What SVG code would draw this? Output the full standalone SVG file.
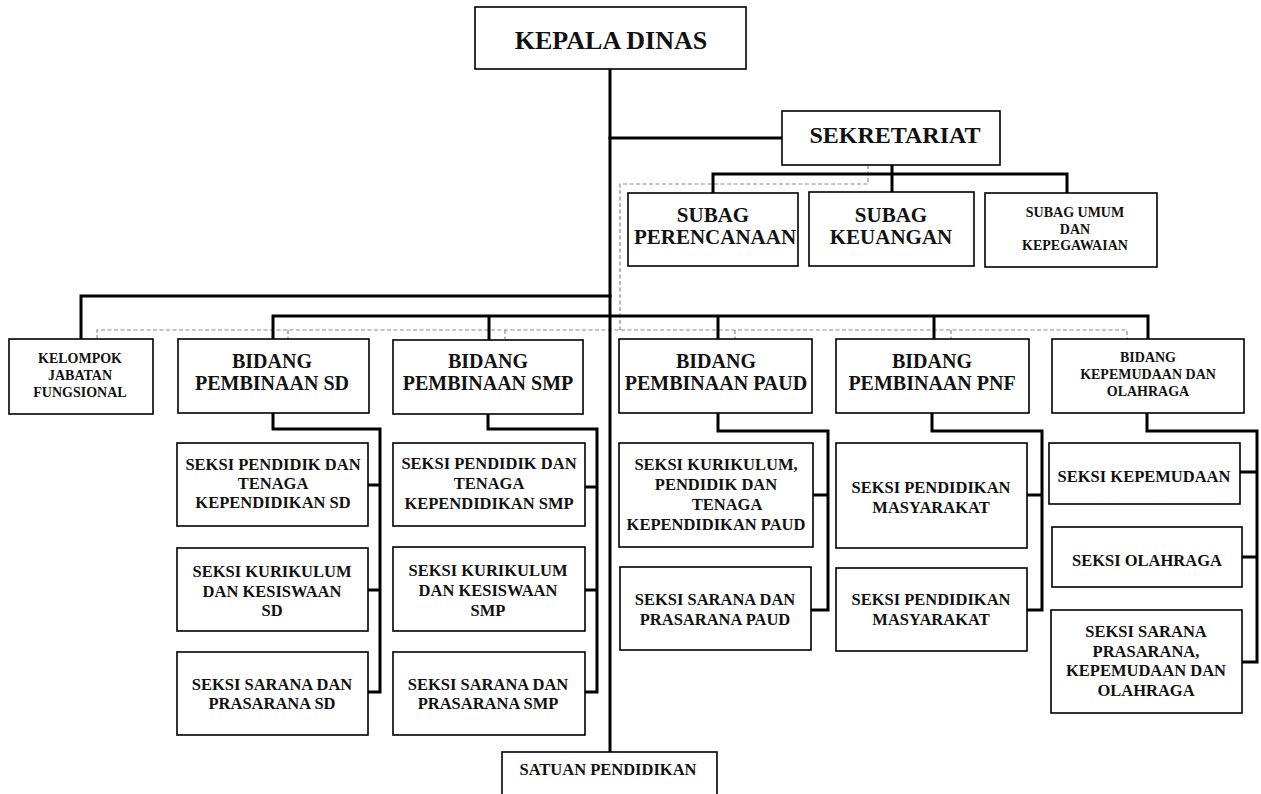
<svg xmlns="http://www.w3.org/2000/svg" width="1261" height="794" viewBox="0 0 1261 794">
<style>
.box{fill:#fff;stroke:#000;stroke-width:1.6}
.ln{fill:none;stroke:#000;stroke-width:3;stroke-linejoin:miter;stroke-linecap:square}
.dash{fill:none;stroke:#8a8a8a;stroke-width:1.2;stroke-dasharray:4 2.5}
text{font-family:"Liberation Serif","Times New Roman",serif;font-weight:bold;fill:#111;text-anchor:middle}
.t26{font-size:26px}.t24{font-size:24px}.t21{font-size:21px}.t20{font-size:20px}.t14{font-size:14px}.t16{font-size:16.5px}
</style>
<rect width="1261" height="794" fill="#fff"/>
<g id="connectors">
<path class="dash" d="M868,165 V184 H620 V330 M97,339 V330 H1127 V339 M288,330 V339 M505,330 V339 M735,330 V339 M951,330 V339"/>
<path class="ln" d="M610,69 V752"/>
<path class="ln" d="M610,138 H782"/>
<path class="ln" d="M892,165 V192 M713,193 V174 H1067 V193"/>
<path class="ln" d="M610,296 H81 V339"/>
<path class="ln" d="M273,339 V316 H1148 V339 M489,316 V340 M718,316 V339 M934,316 V339"/>
<path class="ln" d="M273,413 V429 H380 V692 H368 M368,485 H380 M368,590 H380"/>
<path class="ln" d="M488,414 V429 H597 V692 H585 M585,487 H597 M585,590 H597"/>
<path class="ln" d="M718,413 V431 H828 V610 H811 M813,495 H828"/>
<path class="ln" d="M932,413 V431 H1042 V610 H1027 M1027,495 H1042"/>
<path class="ln" d="M1147,413 V431 H1257 V662 H1242 M1240,472 H1257 M1242,557 H1257"/>
</g>
<g id="kepala-dinas"><rect class="box" x="475" y="7" width="271" height="62"/><text class="t26" x="611" y="49">KEPALA DINAS</text></g>
<g id="sekretariat"><rect class="box" x="782" y="111" width="218" height="54"/><text class="t24" x="895" y="143">SEKRETARIAT</text></g>
<g id="subag-perencanaan"><rect class="box" x="628" y="193" width="170" height="73"/><text class="t21" x="713" y="222">SUBAG</text><text class="t21" x="715" y="244">PERENCANAAN</text></g>
<g id="subag-keuangan"><rect class="box" x="809" y="192" width="165" height="74"/><text class="t21" x="891" y="222">SUBAG</text><text class="t21" x="891" y="244">KEUANGAN</text></g>
<g id="subag-umum"><rect class="box" x="985" y="193" width="172" height="74"/><text class="t14" x="1075" y="217">SUBAG UMUM</text><text class="t14" x="1075" y="234">DAN</text><text class="t14" x="1075" y="250">KEPEGAWAIAN</text></g>
<g id="kelompok-jabatan"><rect class="box" x="9" y="339" width="144" height="75"/><text class="t14" x="80" y="363">KELOMPOK</text><text class="t14" x="80" y="380">JABATAN</text><text class="t14" x="80" y="397">FUNGSIONAL</text></g>
<g id="bidang-sd"><rect class="box" x="178" y="339" width="191" height="74"/><text class="t20" x="272" y="368">BIDANG</text><text class="t20" x="272" y="390">PEMBINAAN SD</text></g>
<g id="bidang-smp"><rect class="box" x="393" y="340" width="190" height="74"/><text class="t20" x="488" y="368">BIDANG</text><text class="t20" x="488" y="390">PEMBINAAN SMP</text></g>
<g id="bidang-paud"><rect class="box" x="619" y="339" width="193" height="74"/><text class="t20" x="716" y="368">BIDANG</text><text class="t20" x="716" y="390">PEMBINAAN PAUD</text></g>
<g id="bidang-pnf"><rect class="box" x="836" y="339" width="193" height="74"/><text class="t20" x="932" y="368">BIDANG</text><text class="t20" x="932" y="390">PEMBINAAN PNF</text></g>
<g id="bidang-kepemudaan"><rect class="box" x="1052" y="339" width="192" height="74"/><text class="t14" x="1148" y="362">BIDANG</text><text class="t14" x="1148" y="379">KEPEMUDAAN DAN</text><text class="t14" x="1148" y="396">OLAHRAGA</text></g>
<g id="seksi-ptk-sd"><rect class="box" x="177" y="443" width="191" height="83"/><text class="t16" x="273" y="470">SEKSI PENDIDIK DAN</text><text class="t16" x="273" y="489">TENAGA</text><text class="t16" x="273" y="508">KEPENDIDIKAN SD</text></g>
<g id="seksi-kurikulum-sd"><rect class="box" x="177" y="548" width="191" height="83"/><text class="t16" x="272" y="577">SEKSI KURIKULUM</text><text class="t16" x="272" y="597">DAN KESISWAAN</text><text class="t16" x="272" y="616">SD</text></g>
<g id="seksi-sarpras-sd"><rect class="box" x="177" y="652" width="191" height="83"/><text class="t16" x="272" y="690">SEKSI SARANA DAN</text><text class="t16" x="272" y="709">PRASARANA SD</text></g>
<g id="seksi-ptk-smp"><rect class="box" x="393" y="443" width="192" height="83"/><text class="t16" x="489" y="469">SEKSI PENDIDIK DAN</text><text class="t16" x="489" y="489">TENAGA</text><text class="t16" x="489" y="509">KEPENDIDIKAN SMP</text></g>
<g id="seksi-kurikulum-smp"><rect class="box" x="393" y="547" width="192" height="84"/><text class="t16" x="488" y="576">SEKSI KURIKULUM</text><text class="t16" x="488" y="596">DAN KESISWAAN</text><text class="t16" x="488" y="616">SMP</text></g>
<g id="seksi-sarpras-smp"><rect class="box" x="393" y="652" width="192" height="83"/><text class="t16" x="488" y="690">SEKSI SARANA DAN</text><text class="t16" x="488" y="709">PRASARANA SMP</text></g>
<g id="seksi-ptk-paud"><rect class="box" x="619" y="443" width="194" height="104"/><text class="t16" x="716" y="470">SEKSI KURIKULUM,</text><text class="t16" x="716" y="490">PENDIDIK DAN</text><text class="t16" x="727" y="510">TENAGA</text><text class="t16" x="716" y="530">KEPENDIDIKAN PAUD</text></g>
<g id="seksi-sarpras-paud"><rect class="box" x="620" y="567" width="191" height="83"/><text class="t16" x="715" y="605">SEKSI SARANA DAN</text><text class="t16" x="715" y="625">PRASARANA PAUD</text></g>
<g id="seksi-dikmas-1"><rect class="box" x="836" y="443" width="191" height="105"/><text class="t16" x="931" y="493">SEKSI PENDIDIKAN</text><text class="t16" x="931" y="513">MASYARAKAT</text></g>
<g id="seksi-dikmas-2"><rect class="box" x="836" y="568" width="191" height="83"/><text class="t16" x="931" y="605">SEKSI PENDIDIKAN</text><text class="t16" x="931" y="625">MASYARAKAT</text></g>
<g id="seksi-kepemudaan"><rect class="box" x="1049" y="443" width="191" height="61"/><text class="t16" x="1144" y="482">SEKSI KEPEMUDAAN</text></g>
<g id="seksi-olahraga"><rect class="box" x="1052" y="527" width="190" height="60"/><text class="t16" x="1147" y="566">SEKSI OLAHRAGA</text></g>
<g id="seksi-sarpras-kepemudaan"><rect class="box" x="1051" y="610" width="191" height="103"/><text class="t16" x="1146" y="637">SEKSI SARANA</text><text class="t16" x="1146" y="657">PRASARANA,</text><text class="t16" x="1146" y="676">KEPEMUDAAN DAN</text><text class="t16" x="1146" y="696">OLAHRAGA</text></g>
<g id="satuan-pendidikan"><rect class="box" x="502" y="752" width="215" height="50"/><text class="t16" x="608" y="775">SATUAN PENDIDIKAN</text></g>
</svg>
